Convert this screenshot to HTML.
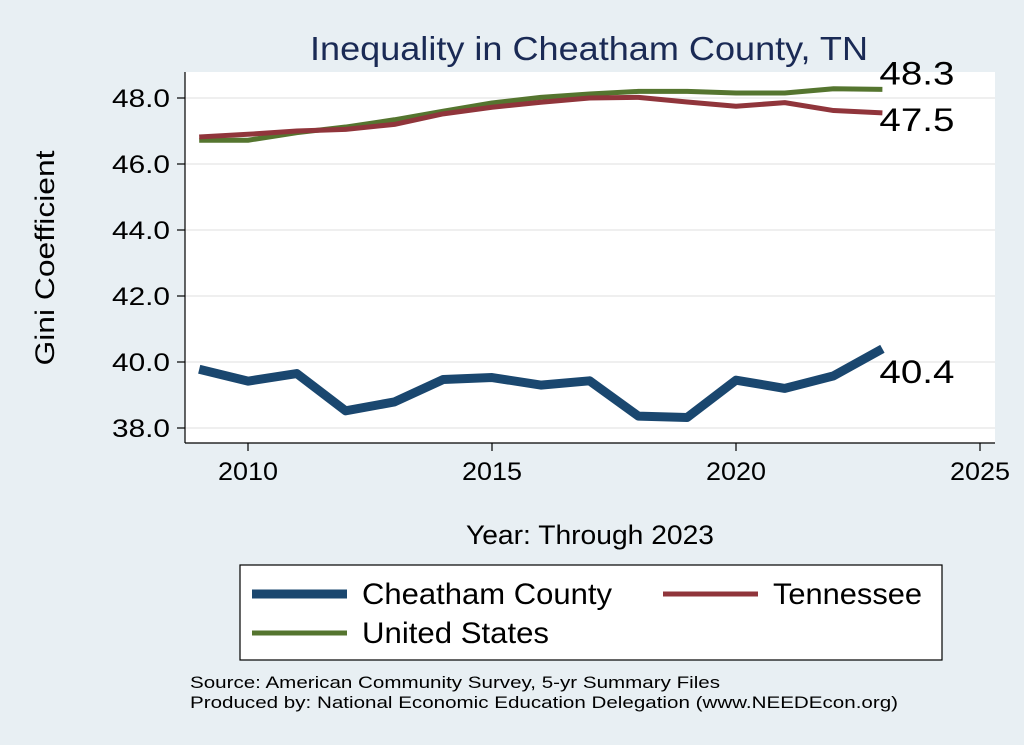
<!DOCTYPE html>
<html><head><meta charset="utf-8"><style>
body{margin:0;background:#e8eff3;}
svg{display:block;font-family:"Liberation Sans",sans-serif;}
</style></head><body>
<svg id="chart" width="1024" height="745">
<rect x="0" y="0" width="1024" height="745" fill="#e8eff3"/>
<rect x="185" y="72" width="810" height="371" fill="#ffffff"/>
<text x="310" y="60" font-size="33" textLength="558" lengthAdjust="spacingAndGlyphs" fill="#1a2a55">Inequality in Cheatham County, TN</text>
<g id="grid"></g><g id="axes"></g><g id="series"></g>
<text transform="translate(54,258) rotate(-90)" text-anchor="middle" font-size="27" textLength="215" lengthAdjust="spacingAndGlyphs" fill="#000">Gini Coefficient</text>
<text x="466" y="544" font-size="27" textLength="248" lengthAdjust="spacingAndGlyphs" fill="#000">Year: Through 2023</text>
<g>
<rect x="240" y="565" width="702" height="95" fill="#fff" stroke="#000" stroke-width="1.2"/>
<line x1="252" y1="594" x2="347" y2="594" stroke="#1a476f" stroke-width="9"/>
<text x="362" y="604" font-size="30" textLength="250" lengthAdjust="spacingAndGlyphs">Cheatham County</text>
<line x1="663" y1="594" x2="758" y2="594" stroke="#90353b" stroke-width="5"/>
<text x="773" y="604" font-size="30" textLength="149" lengthAdjust="spacingAndGlyphs">Tennessee</text>
<line x1="252" y1="633" x2="347" y2="633" stroke="#55752f" stroke-width="5"/>
<text x="362" y="643" font-size="30" textLength="187" lengthAdjust="spacingAndGlyphs">United States</text>
</g>
<text x="190" y="688" font-size="17" textLength="530" lengthAdjust="spacingAndGlyphs">Source: American Community Survey, 5-yr Summary Files</text>
<text x="190" y="708" font-size="17" textLength="708" lengthAdjust="spacingAndGlyphs">Produced by: National Economic Education Delegation (www.NEEDEcon.org)</text>
</svg>
<script>
const years=[2009,2010,2011,2012,2013,2014,2015,2016,2017,2018,2019,2020,2021,2022,2023];
const cheatham=[39.78,39.42,39.65,38.52,38.79,39.47,39.53,39.3,39.43,38.36,38.32,39.45,39.2,39.58,40.4];
const tennessee=[46.82,46.9,47.0,47.05,47.2,47.52,47.72,47.87,48.0,48.02,47.88,47.75,47.86,47.62,47.55];
const usa=[46.72,46.72,46.95,47.12,47.34,47.6,47.85,48.02,48.12,48.2,48.2,48.15,48.15,48.28,48.26];
const yTicks=[38,40,42,44,46,48];
const xTicks=[2010,2015,2020,2025];
const NS='http://www.w3.org/2000/svg';
const X=v=>248+(v-2010)*48.8;
const Y=v=>428-(v-38)*33;
function mk(tag,attrs,parent){const e=document.createElementNS(NS,tag);for(const k in attrs)e.setAttribute(k,attrs[k]);document.getElementById(parent).appendChild(e);return e;}
yTicks.forEach(t=>{
 const g=mk('line',{x1:185,x2:995,y1:Y(t),y2:Y(t),stroke:'#eaeaea','stroke-width':1.5},'grid');
 
 
 const tk=mk('line',{x1:177,x2:185,y1:Y(t),y2:Y(t),stroke:'#000','stroke-width':1.2},'axes');
 
 
 const l=mk('text',{x:112,y:Y(t)+9,'font-size':25,textLength:58,lengthAdjust:'spacingAndGlyphs'},'axes');l.textContent=t.toFixed(1);
 
 
});
xTicks.forEach(t=>{
 const tk=mk('line',{x1:X(t),x2:X(t),y1:443,y2:451,stroke:'#000','stroke-width':1.2},'axes');
 
 
 const l=mk('text',{x:X(t)-30,y:480,'font-size':25,textLength:60,lengthAdjust:'spacingAndGlyphs'},'axes');l.textContent=t;
 
 
});
const ya=mk('line',{x1:185,x2:185,y1:72,y2:443,stroke:'#000','stroke-width':1.2},'axes');


const xa=mk('line',{x1:185,x2:995,y1:443,y2:443,stroke:'#000','stroke-width':1.2},'axes');


function series(vals,color,w,name,dy){
 const p=mk('polyline',{points:vals.map((v,i)=>X(years[i])+','+Y(v)).join(' '),fill:'none',stroke:color,'stroke-width':w,'stroke-linejoin':'round'},'series');
 
 
 const last=vals[vals.length-1];
 const t=mk('text',{x:X(years[years.length-1])+-3,y:Y(last)+dy,'font-size':32,textLength:75,lengthAdjust:'spacingAndGlyphs'},'series');t.textContent=last.toFixed(1);
 
 
}
series(usa,'#55752f',5,'us',-5);
series(tennessee,'#90353b',5,'tennessee',18);
series(cheatham,'#1a476f',9,'cheatham',34);
</script>
</body></html>
